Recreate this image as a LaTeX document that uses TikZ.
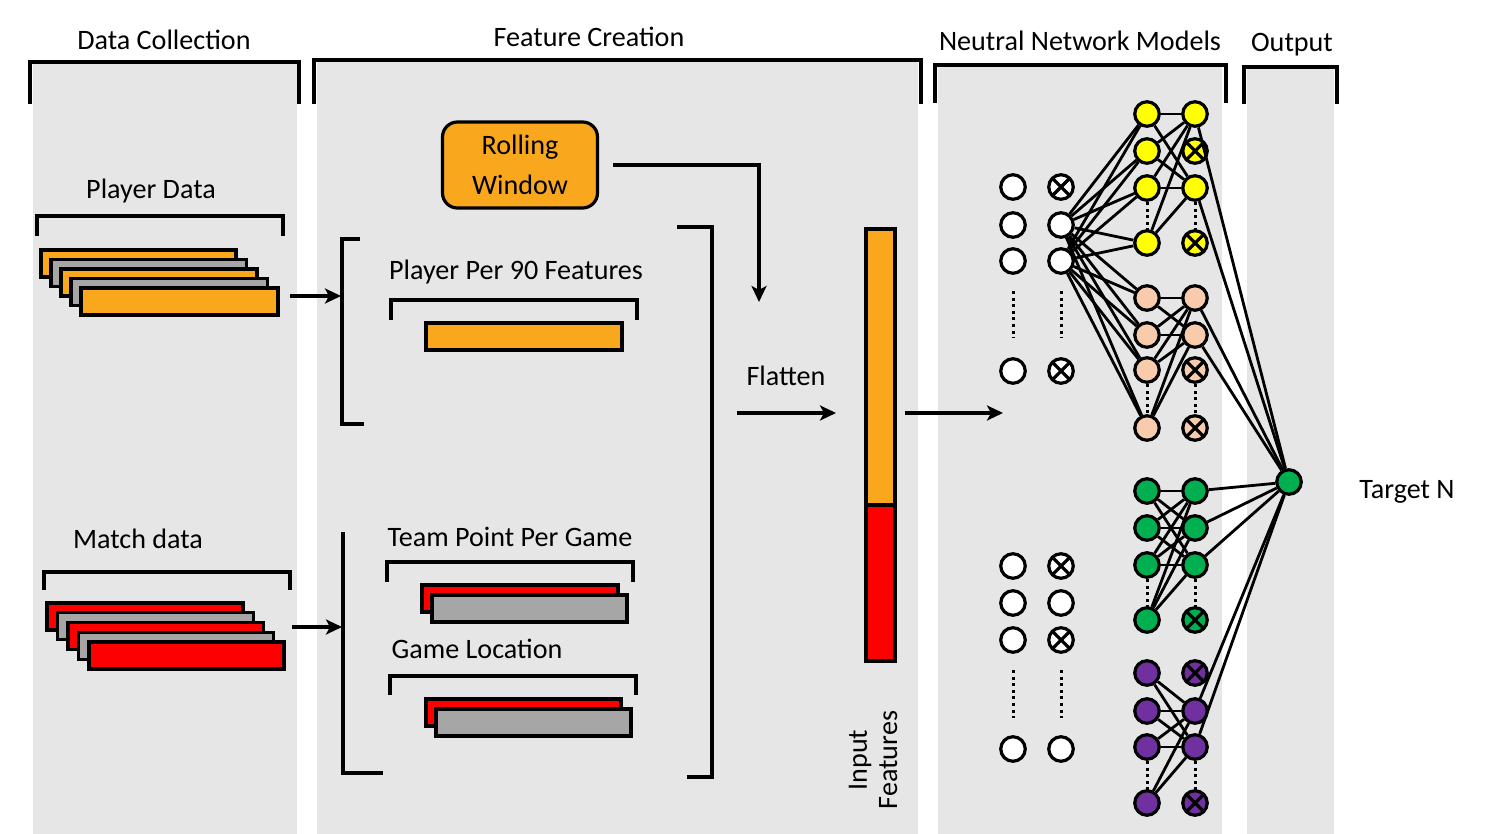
\documentclass[tikz,border=0pt]{standalone}
\usepackage{fontspec}
\setmainfont{Carlito}
\usetikzlibrary{arrows.meta}
\definecolor{panel}{RGB}{230,230,230}
\definecolor{orng}{RGB}{249,168,30}
\definecolor{grayb}{RGB}{166,166,166}
\definecolor{redb}{RGB}{255,0,0}
\definecolor{yel}{RGB}{255,255,0}
\definecolor{peach}{RGB}{248,203,173}
\definecolor{grn}{RGB}{0,176,80}
\definecolor{purp}{RGB}{112,48,160}
\begin{document}
\begin{tikzpicture}[x=0.1mm,y=-0.1mm,
  lbl/.style={font=\fontsize{8}{9.6}\selectfont, inner sep=0pt, text=black},
  brk/.style={line width=0.32mm},
  bar/.style={draw, line width=0.32mm},
  conn/.style={line width=0.28mm},
  arr/.style={line width=0.36mm, -{Stealth[length=1.6mm,width=1.5mm,inset=0.4mm]}},
  neuron/.style={circle, draw, line width=0.32mm, minimum size=2.45mm, inner sep=0pt, fill=white},
  xneuron/.style={neuron, path picture={\draw[line width=0.32mm] (path picture bounding box.north west) -- (path picture bounding box.south east) (path picture bounding box.north east) -- (path picture bounding box.south west);}},
  ndots/.style={line width=0.3mm, dash pattern=on 0.3mm off 0.36mm}
]
\useasboundingbox (0,0) rectangle (1497,834);
\fill[white] (0,0) rectangle (1497,834);
% panels
\fill[panel] (33,62) rectangle (297,834);
\fill[panel] (317,60) rectangle (918,834);
\fill[panel] (938,65) rectangle (1222,834);
\fill[panel] (1247,67) rectangle (1334,834);
\draw[brk] (30,104) -- (30,62) -- (299,62) -- (299,104);
\draw[brk] (314,104) -- (314,60) -- (921,60) -- (921,104);
\draw[brk] (935,103) -- (935,65) -- (1226,65) -- (1226,103);
\draw[brk] (1244,104) -- (1244,67) -- (1337,67) -- (1337,104);
% headers
\node[lbl] (hdc) at (164,40) {Data Collection};
\node[lbl] (hfc) at (589,37) {Feature Creation};
\node[lbl] (hnn) at (1080,41) {Neutral Network Models};
\node[lbl] (hout) at (1292,45) {Output};
% data collection
\node[lbl] (pd) at (151,191) {Player Data};
\draw[brk] (37,236) -- (37,216) -- (283,216) -- (283,236);
\foreach \i/\c in {0/orng,1/grayb,2/orng,3/grayb,4/orng}
  \draw[bar, fill=\c] ({41+10*\i},{250+9.5*\i}) rectangle ({236+10.5*\i},{277+9.5*\i});
\node[lbl] (md) at (138,539) {Match data};
\draw[brk] (44,590) -- (44,572) -- (290,572) -- (290,590);
\foreach \i/\c in {0/redb,1/grayb,2/redb,3/grayb,4/redb}
  \draw[bar, fill=\c] ({47+10.5*\i},{603+9.75*\i}) rectangle ({243+10.25*\i},{630+9.75*\i});
% arrows to feature creation
\coordinate (pa0) at (290,296);
\coordinate (pa1) at (341,296);
\coordinate (ma0) at (292,627);
\coordinate (ma1) at (342,627);
\draw[arr] (pa0) -- (pa1);
\draw[arr] (ma0) -- (ma1);
% feature creation brackets
\draw[brk] (360,239) -- (342,239) -- (342,424) -- (364,424);
\draw[brk] (343,532) -- (343,773) -- (383,773);
\draw[brk] (677,227) -- (712,227) -- (712,777) -- (687,777);
% rolling window
\node[draw, line width=0.32mm, fill=orng, rounded corners=1.5mm, minimum width=15.5mm, minimum height=8.6mm, align=center, font=\fontsize{8}{11.4}\selectfont, inner sep=0pt] (rw) at (520,165) {Rolling\\Window};
\coordinate (rwend) at (759,302);
\draw[arr] ([xshift=1.4mm]rw.east) -| (rwend);
% player per 90
\node[lbl] (pp) at (516,272) {Player Per 90 Features};
\draw[brk] (391,320) -- (391,300) -- (637,300) -- (637,320);
\draw[bar, fill=orng] (426,323) rectangle (622,350);
% team point per game
\node[lbl] (tp) at (510,537) {Team Point Per Game};
\draw[brk] (387,582) -- (387,562) -- (633,562) -- (633,582);
\draw[bar, fill=redb] (422,585) rectangle (618,612);
\draw[bar, fill=grayb] (432,595) rectangle (627,622);
% game location
\node[lbl] (gl) at (477,649) {Game Location};
\draw[brk] (390,695) -- (390,676) -- (636,676) -- (636,695);
\draw[bar, fill=redb] (426,699) rectangle (621,726);
\draw[bar, fill=grayb] (436,709) rectangle (631,736);
% flatten
\node[lbl] (fl) at (786,376) {Flatten};
\coordinate (fa0) at (737,413);
\coordinate (fa1) at (836,413);
\draw[arr] (fa0) -- (fa1);
% input features
\draw[bar, fill=orng] (866,229) rectangle (895,505);
\draw[bar, fill=redb] (866,505) rectangle (895,661);
\node[lbl, rotate=90, align=center, font=\fontsize{8}{8.6}\selectfont] (inf) at (873,760) {Input\\Features};
\coordinate (ia0) at (905,413);
\coordinate (ia1) at (1003,413);
\draw[arr] (ia0) -- (ia1);
% input neurons
\foreach \y/\n in {187/1,225/2,261/3,371/4,566/5,603/6,640/7,749/8}
  \node[neuron] (a\n) at (1013,\y) {};
\node[xneuron] (b1) at (1061,187) {};
\node[neuron]  (b2) at (1061,225) {};
\node[neuron]  (b3) at (1061,261) {};
\node[xneuron] (b4) at (1061,371) {};
\node[xneuron] (b5) at (1061,566) {};
\node[neuron]  (b6) at (1061,603) {};
\node[xneuron] (b7) at (1061,640) {};
\node[neuron]  (b8) at (1061,749) {};
\foreach \x in {1013,1061} {
  \draw[ndots] (\x,291) -- (\x,338);
  \draw[ndots] (\x,670) -- (\x,718);
}
% connections (drawn before hidden neurons so circles sit on top)
\path (1147,114) coordinate (tmp);
% hidden neurons
\foreach \y/\n in {114/1,151/2,188/3,243/4} \node[neuron, fill=yel] (yc\n) at (1147,\y) {};
\node[neuron, fill=yel] (yd1) at (1195,114) {};
\node[xneuron, fill=yel] (yd2) at (1195,151) {};
\node[neuron, fill=yel] (yd3) at (1195,188) {};
\node[xneuron, fill=yel] (yd4) at (1195,243) {};
\foreach \y/\n in {298/1,335/2,370/3,428/4} \node[neuron, fill=peach] (pc\n) at (1147,\y) {};
\node[neuron, fill=peach] (pd1) at (1195,298) {};
\node[neuron, fill=peach] (pd2) at (1195,335) {};
\node[xneuron, fill=peach] (pd3) at (1195,370) {};
\node[xneuron, fill=peach] (pd4) at (1195,428) {};
\foreach \y/\n in {491/1,528/2,565/3,620/4} \node[neuron, fill=grn] (gc\n) at (1147,\y) {};
\node[neuron, fill=grn] (gd1) at (1195,491) {};
\node[neuron, fill=grn] (gd2) at (1195,528) {};
\node[neuron, fill=grn] (gd3) at (1195,565) {};
\node[xneuron, fill=grn] (gd4) at (1195,620) {};
\foreach \y/\n in {673/1,711/2,747/3,803/4} \node[neuron, fill=purp] (uc\n) at (1147,\y) {};
\node[xneuron, fill=purp] (ud1) at (1195,673) {};
\node[neuron, fill=purp] (ud2) at (1195,711) {};
\node[neuron, fill=purp] (ud3) at (1195,747) {};
\node[xneuron, fill=purp] (ud4) at (1195,803) {};
\foreach \x in {1147,1195} {
  \draw[ndots] (\x,202) -- (\x,230);
  \draw[ndots] (\x,384) -- (\x,415);
  \draw[ndots] (\x,579) -- (\x,607);
  \draw[ndots] (\x,761) -- (\x,790);
}
% target
\node[neuron, fill=grn] (t) at (1289,482) {};
\node[lbl] (tn) at (1407,492) {Target N};
% connections
\foreach \s in {b2,b3}
  \foreach \d in {yc1,yc2,yc3,yc4,pc1,pc2,pc3,pc4}
    \draw[conn] (\s) -- (\d);
\foreach \s in {yc1,yc2,yc3,yc4} \foreach \d in {yd1,yd3} \draw[conn] (\s) -- (\d);
\foreach \s in {pc1,pc2,pc3,pc4} \foreach \d in {pd1,pd2} \draw[conn] (\s) -- (\d);
\foreach \s in {gc1,gc2,gc3,gc4} \foreach \d in {gd1,gd2,gd3} \draw[conn] (\s) -- (\d);
\foreach \s in {uc1,uc2,uc3,uc4} \foreach \d in {ud2,ud3} \draw[conn] (\s) -- (\d);
\foreach \s in {yd1,yd3,pd1,pd2,gd1,gd2,gd3,ud2,ud3} \draw[conn] (\s) -- (t);
\end{tikzpicture}
\end{document}
